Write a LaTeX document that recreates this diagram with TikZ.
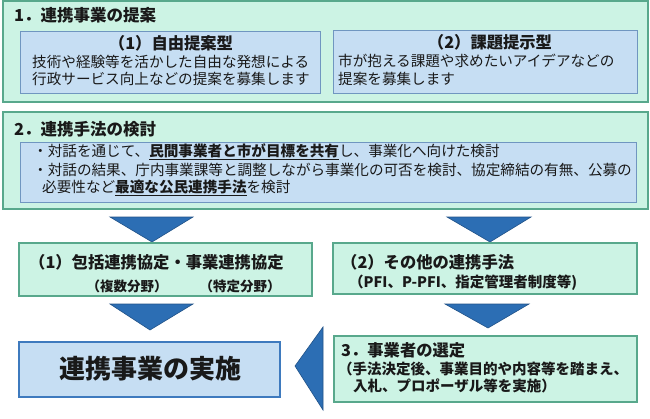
\documentclass[tikz,border=0pt]{standalone}
\usepackage{fontspec}
\setmainfont{Noto Sans CJK JP}
\definecolor{mintfill}{RGB}{204,243,228}
\definecolor{mintdraw}{RGB}{88,168,140}
\definecolor{bluefill}{RGB}{198,222,243}
\definecolor{bluedraw}{RGB}{112,150,192}
\definecolor{arrowblue}{RGB}{44,110,180}
\definecolor{mainblue}{RGB}{62,122,190}
\definecolor{txt}{RGB}{25,25,25}
\tikzset{
  mintbox/.style={draw=mintdraw, line width=1.2pt, fill=mintfill},
  bluebox/.style={draw=bluedraw, line width=1pt, fill=bluefill},
  mainbox/.style={draw=mainblue, line width=2.2pt, fill=bluefill},
  downarrow/.style={fill=arrowblue, draw=arrowblue!75!black, line width=0.6pt},
  txtw/.style={anchor=west, inner sep=0pt, text=txt},
  txtc/.style={anchor=center, inner sep=0pt, text=txt},
  title/.style={font=\fontsize{16.5}{18}\selectfont\bfseries},
  head/.style={font=\fontsize{16.3}{18}\selectfont\bfseries},
  body/.style={font=\fontsize{14.6}{16}\selectfont},
  bodyb/.style={font=\fontsize{14.5}{16}\selectfont\bfseries},
  subb/.style={font=\fontsize{13.5}{15}\selectfont\bfseries},
}
\begin{document}
\begin{tikzpicture}[x=1pt,y=-1pt]
\useasboundingbox (0,0) rectangle (650,418);
% ---- section 1
\draw[mintbox] (3,1) rectangle (648,102);
\node[txtw,title] (t1) at (14,15) {1．連携事業の提案};
\draw[bluebox] (20,31) rectangle (320,93);
\draw[bluebox] (333,30) rectangle (637,93);
\node[txtc,head] (h1) at (171,43) {（1）自由提案型};
\node[txtw,body] (l11) at (32,62) {技術や経験等を活かした自由な発想による};
\node[txtw,body] (l12) at (32,79) {行政サービス向上などの提案を募集します};
\node[txtc,head] (h2) at (490,42) {（2）課題提示型};
\node[txtw,body] (l21) at (338,61) {市が抱える課題や求めたいアイデアなどの};
\node[txtw,body] (l22) at (338,79) {提案を募集します};
% ---- section 2
\draw[mintbox] (3,112) rectangle (648,209);
\node[txtw,title] (t2) at (14,129) {2．連携手法の検討};
\draw[bluebox] (20,142) rectangle (636,202);
\node[txtw,body] (m1) at (33,152) {・対話を通じて、\underline{\bfseries 民間事業者と市が目標を共有}し、事業化へ向けた検討};
\node[txtw,body] (m2) at (33,170) {・対話の結果、庁内事業課等と調整しながら事業化の可否を検討、協定締結の有無、公募の};
\node[txtw,body] (m3) at (42,188) {必要性など\underline{\bfseries 最適な公民連携手法}を検討};
% ---- arrows
\draw[downarrow] (110,217) -- (193,217) -- (152,242) -- cycle;
\draw[downarrow] (447,217) -- (531,217) -- (490,242) -- cycle;
% ---- methods
\draw[mintbox] (19,243) rectangle (312,296);
\node[txtw,head] (c1a) at (29,262) {（1）包括連携協定・事業連携協定};
\node[txtc,subb] (c1b) at (127,286) {（複数分野）};
\node[txtc,subb] (c1c) at (240,286) {（特定分野）};
\draw[mintbox] (333,243) rectangle (637,294);
\node[txtw,head] (c2a) at (341,262) {（2）その他の連携手法};
\node[txtw,bodyb] (c2b) at (349,283) {（PFI、P-PFI、指定管理者制度等)};
\draw[downarrow] (110,304) -- (193,304) -- (150,330) -- cycle;
\draw[downarrow] (445,304) -- (529,304) -- (488,328) -- cycle;
% ---- bottom
\draw[mainbox] (19,342) rectangle (280,397);
\node[txtc,font=\fontsize{26}{28}\selectfont\bfseries] (main) at (150,369) {連携事業の実施};
\draw[downarrow] (323,327) -- (323,410) -- (295,366) -- cycle;
\draw[mintbox] (334,336) rectangle (637,402);
\node[txtw,head] (s1) at (341,350) {3．事業者の選定};
\node[txtw,bodyb] (s2) at (338,369) {（手法決定後、事業目的や内容等を踏まえ、};
\node[txtw,bodyb] (s3) at (353,386) {入札、プロポーザル等を実施）};
\end{tikzpicture}
\end{document}
